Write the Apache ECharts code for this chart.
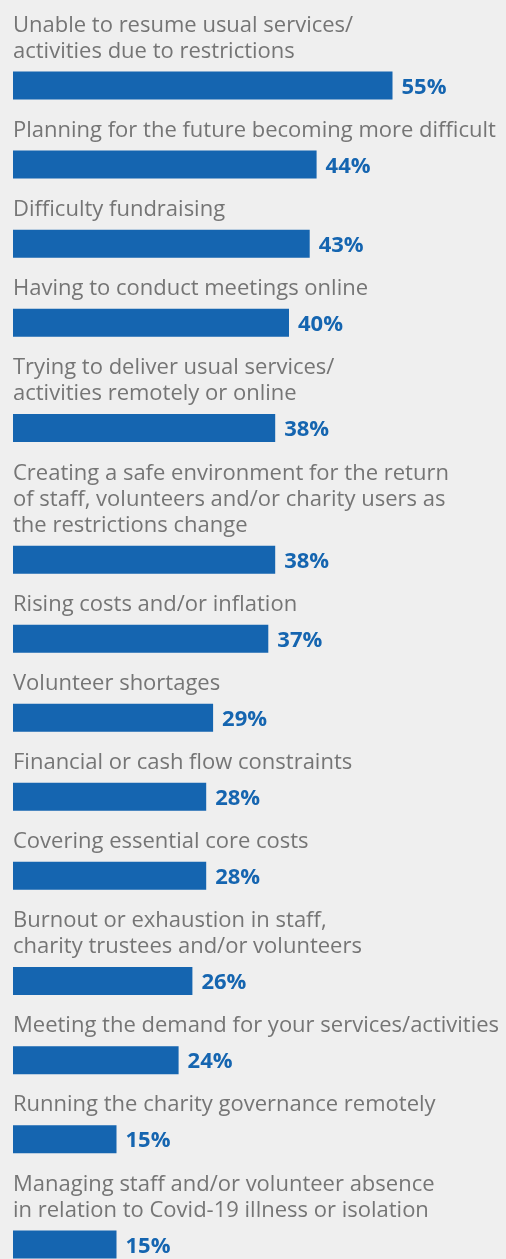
<!DOCTYPE html>
<html>
<head>
<meta charset="utf-8">
<title>Challenges facing charities</title>
<script src="https://cdn.jsdelivr.net/npm/echarts@6/dist/echarts.min.js"></script>
<style>
  html, body { margin: 0; padding: 0; background: #efefef; }
  #chart { width: 506px; height: 1259px; }
</style>
</head>
<body>
<div id="chart"></div>
<script>
// Challenges, in the order shown (line breaks as in the printed labels)
const categories = [
  'Unable to resume usual services/\nactivities due to restrictions',
  'Planning for the future becoming more difficult',
  'Difficulty fundraising',
  'Having to conduct meetings online',
  'Trying to deliver usual services/\nactivities remotely or online',
  'Creating a safe environment for the return\nof staff, volunteers and/or charity users as\nthe restrictions change',
  'Rising costs and/or inflation',
  'Volunteer shortages',
  'Financial or cash flow constraints',
  'Covering essential core costs',
  'Burnout or exhaustion in staff,\ncharity trustees and/or volunteers',
  'Meeting the demand for your services/activities',
  'Running the charity governance remotely',
  'Managing staff and/or volunteer absence\nin relation to Covid-19 illness or isolation'
];

// Share of respondents (%)
const values = [55, 44, 43, 40, 38, 38, 37, 29, 28, 28, 26, 24, 15, 15];

// Each item takes one row per label line plus two rows for its bar;
// the bar sits at the running row count.
const BAR_ROWS = 2;
const rowData = [];
let rows = 0;
categories.forEach(function (label, i) {
  rows += label.split('\n').length;
  rowData.push([values[i], rows + BAR_ROWS * i, i]);
});

const BLUE = '#1565b0';
const GREY = '#757575';
const FONT = '"Open Sans", "Noto Sans", sans-serif';

const chart = echarts.init(document.getElementById('chart'), null, { renderer: 'canvas' });

chart.setOption({
  backgroundColor: '#efefef',
  animation: false,
  grid: { left: 13, right: 10, top: 0, bottom: 0 },
  xAxis: { type: 'value', min: 0, max: 70, show: false },
  yAxis: { type: 'value', min: -1.25, max: 46.55, inverse: true, show: false },
  series: [{
    type: 'custom',
    data: rowData,
    encode: { x: 0, y: 1 },
    clip: false,
    renderItem: function (params, api) {
      const v = api.value(0);
      const row = api.value(1);
      const idx = api.value(2);
      const start = api.coord([0, row]);
      const end = api.coord([v, row]);
      const h = 28;
      const top = start[1] - h / 2;
      return {
        type: 'group',
        children: [
          {
            type: 'rect',
            shape: { x: start[0], y: top, width: end[0] - start[0], height: h },
            style: { fill: BLUE }
          },
          {
            type: 'text',
            style: {
              text: v + '%',
              x: end[0] + 9,
              y: start[1] + 2,
              verticalAlign: 'middle',
              align: 'left',
              fill: BLUE,
              fontFamily: FONT,
              fontWeight: 'bold',
              fontSize: 22
            }
          },
          {
            type: 'text',
            style: {
              text: categories[idx],
              x: start[0],
              y: top - 7,
              verticalAlign: 'bottom',
              align: 'left',
              fill: GREY,
              fontFamily: FONT,
              fontSize: 22,
              lineHeight: 26
            }
          }
        ]
      };
    }
  }]
});
</script>
</body>
</html>
